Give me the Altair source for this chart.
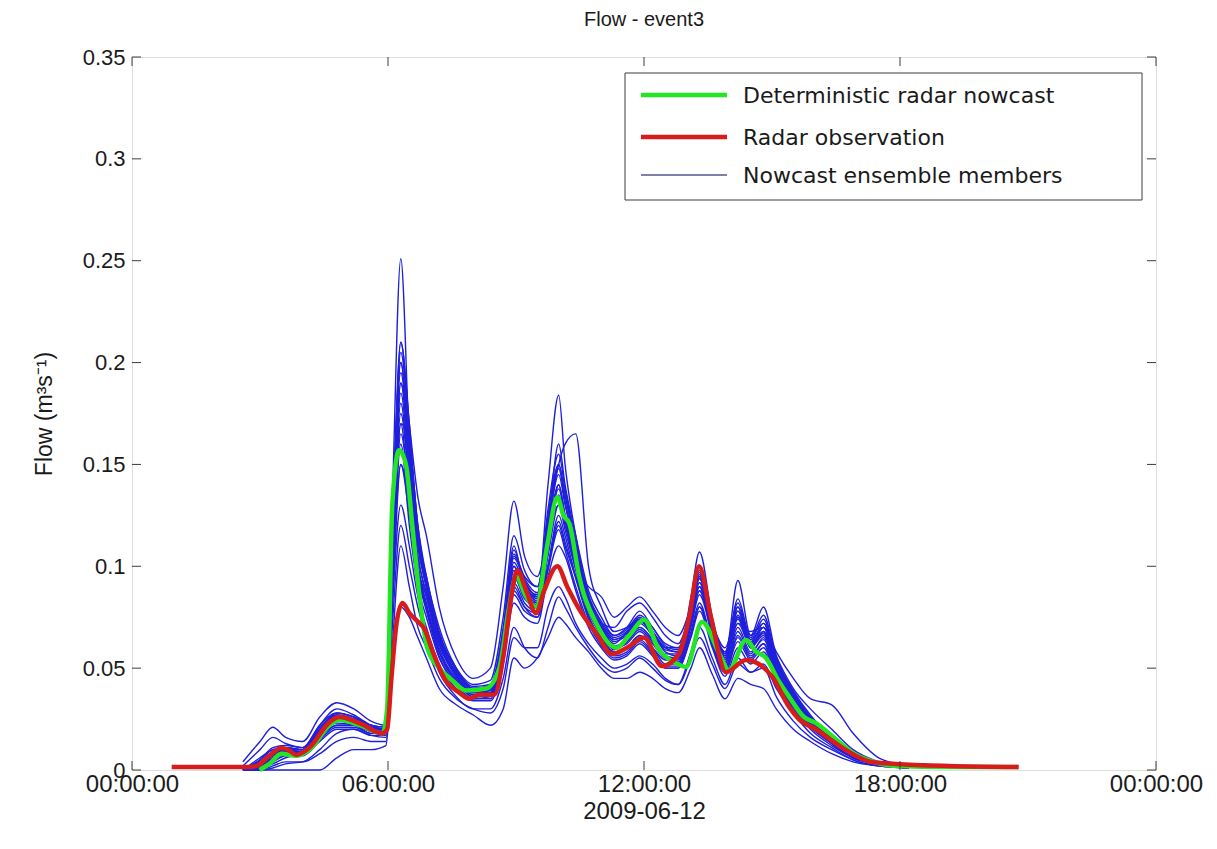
import json
import altair as alt
import pandas as pd

# ---------------- text ----------------
title_text = "Flow - event3"
x_title = "2009-06-12"
y_title = "Flow (m³s⁻¹)"
x_tick_values = [0, 6, 12, 18, 24]
x_tick_labels = ["00:00:00", "06:00:00", "12:00:00", "18:00:00", "00:00:00"]
y_tick_values = [0, 0.05, 0.1, 0.15, 0.2, 0.25, 0.3, 0.35]

legend_labels = ["Deterministic radar nowcast", "Radar observation", "Nowcast ensemble members"]
legend_colors = ["#22e622", "#d81b1b", "#55558f"]
legend_widths = [4.5, 4.5, 1.3]

# ---------------- radar observation ----------------
obs_hours = [0.93, 2.75, 2.92, 3.17, 3.50, 3.69, 3.85, 4.16, 4.63, 4.86, 5.33, 5.87, 5.98,
             6.08, 6.20, 6.34, 6.50, 6.69, 6.86, 7.05, 7.32, 7.67, 7.90, 8.14, 8.49, 8.72,
             8.89, 9.03, 9.24, 9.47, 9.66, 9.97, 10.20, 10.48, 10.88, 11.25, 11.60, 12.00,
             12.42, 12.82, 13.06, 13.29, 13.57, 13.92, 14.39, 15.00, 15.40, 15.63, 16.03,
             16.73, 17.34, 17.90, 19.15, 20.78]
obs_flow = [0.0015, 0.0015, 0.002, 0.006, 0.0108, 0.0095, 0.0074, 0.011, 0.0235, 0.026,
            0.023, 0.018, 0.020, 0.045, 0.072, 0.082, 0.077, 0.073, 0.069, 0.058, 0.045,
            0.038, 0.035, 0.037, 0.037, 0.058, 0.085, 0.098, 0.088, 0.077, 0.088, 0.100,
            0.090, 0.079, 0.067, 0.057, 0.060, 0.065, 0.051, 0.057, 0.075, 0.100, 0.075,
            0.048, 0.054, 0.046, 0.031, 0.025, 0.020, 0.0098, 0.0039, 0.003, 0.002, 0.0015]

# ---------------- deterministic nowcast ----------------
det_hours = [2.99, 3.22, 3.50, 3.85, 4.16, 4.63, 4.86, 5.33, 5.87, 5.98, 6.10, 6.26, 6.42,
             6.57, 6.74, 6.92, 7.20, 7.51, 7.83, 8.30, 8.61, 8.84, 9.00, 9.24, 9.47, 9.73,
             9.97, 10.11, 10.25, 10.48, 10.88, 11.35, 11.65, 12.00, 12.35, 12.70, 12.99,
             13.36, 13.76, 13.99, 14.39, 14.63, 14.86, 15.12, 15.40, 15.75, 16.03, 16.45,
             16.92, 17.39, 17.90, 19.15, 20.78]
det_flow = [0.0, 0.003, 0.008, 0.007, 0.010, 0.022, 0.0245, 0.022, 0.018, 0.030, 0.130,
            0.157, 0.150, 0.120, 0.085, 0.060, 0.050, 0.044, 0.039, 0.040, 0.050, 0.080,
            0.095, 0.085, 0.080, 0.110, 0.134, 0.125, 0.121, 0.095, 0.072, 0.060, 0.066,
            0.0737, 0.059, 0.053, 0.0506, 0.0727, 0.0574, 0.049, 0.0638, 0.058, 0.055,
            0.045, 0.036, 0.026, 0.023, 0.016, 0.008, 0.004, 0.002, 0.0015, 0.0015]

# ---------------- ensemble members ----------------
member_hours = [2.6, 3.0, 3.3, 3.6, 4.0, 4.4, 4.8, 5.2, 5.6, 5.95, 6.1, 6.3, 6.5, 6.7, 6.9,
                7.2, 7.6, 8.0, 8.4, 8.7, 8.95, 9.2, 9.5, 9.75, 10.0, 10.15, 10.4, 10.7, 11.0,
                11.3, 11.6, 11.9, 12.2, 12.5, 12.8, 13.1, 13.3, 13.6, 13.9, 14.2, 14.5, 14.8,
                15.1, 15.5, 15.9, 16.4, 16.9, 17.5, 18.2]
member_01 = [0.000, 0.006, 0.010, 0.011, 0.010, 0.020, 0.027, 0.025, 0.021, 0.020, 0.13, 0.251, 0.16, 0.10, 0.08, 0.058, 0.044, 0.036, 0.036, 0.060, 0.100, 0.085, 0.082, 0.110, 0.140, 0.125, 0.105, 0.080, 0.068, 0.060, 0.064, 0.070, 0.064, 0.055, 0.055, 0.075, 0.090, 0.065, 0.050, 0.070, 0.058, 0.064, 0.048, 0.034, 0.024, 0.014, 0.007, 0.003, 0.001]
member_02 = [0.000, 0.004, 0.008, 0.010, 0.009, 0.018, 0.025, 0.024, 0.020, 0.019, 0.10, 0.19, 0.15, 0.11, 0.09, 0.065, 0.046, 0.038, 0.040, 0.070, 0.110, 0.090, 0.085, 0.140, 0.184, 0.150, 0.115, 0.085, 0.070, 0.062, 0.068, 0.075, 0.068, 0.058, 0.056, 0.078, 0.095, 0.070, 0.052, 0.080, 0.060, 0.070, 0.052, 0.036, 0.025, 0.014, 0.007, 0.003, 0.001]
member_03 = [0.000, 0.002, 0.006, 0.009, 0.008, 0.016, 0.024, 0.024, 0.021, 0.020, 0.09, 0.17, 0.16, 0.12, 0.095, 0.070, 0.050, 0.040, 0.042, 0.065, 0.105, 0.095, 0.090, 0.120, 0.150, 0.160, 0.165, 0.100, 0.080, 0.068, 0.070, 0.074, 0.066, 0.060, 0.058, 0.072, 0.088, 0.068, 0.054, 0.075, 0.062, 0.068, 0.050, 0.035, 0.024, 0.013, 0.006, 0.003, 0.001]
member_04 = [0.004, 0.014, 0.021, 0.016, 0.014, 0.026, 0.033, 0.030, 0.024, 0.022, 0.11, 0.21, 0.17, 0.134, 0.115, 0.080, 0.055, 0.045, 0.050, 0.090, 0.132, 0.105, 0.095, 0.115, 0.130, 0.120, 0.100, 0.090, 0.085, 0.075, 0.080, 0.085, 0.078, 0.070, 0.066, 0.080, 0.092, 0.072, 0.060, 0.078, 0.066, 0.072, 0.056, 0.040, 0.030, 0.020, 0.010, 0.004, 0.001]
member_05 = [0.000, 0.003, 0.007, 0.010, 0.010, 0.020, 0.028, 0.026, 0.022, 0.021, 0.08, 0.15, 0.13, 0.10, 0.08, 0.062, 0.048, 0.040, 0.040, 0.065, 0.095, 0.085, 0.080, 0.100, 0.120, 0.110, 0.095, 0.080, 0.072, 0.070, 0.078, 0.082, 0.075, 0.066, 0.062, 0.078, 0.090, 0.070, 0.058, 0.072, 0.068, 0.070, 0.058, 0.045, 0.035, 0.032, 0.018, 0.006, 0.002]
member_06 = [0.000, 0.000, 0.000, 0.000, 0.000, 0.000, 0.006, 0.010, 0.010, 0.012, 0.05, 0.08, 0.075, 0.065, 0.055, 0.040, 0.032, 0.027, 0.022, 0.030, 0.055, 0.050, 0.055, 0.065, 0.075, 0.072, 0.065, 0.058, 0.050, 0.045, 0.045, 0.048, 0.045, 0.040, 0.038, 0.050, 0.060, 0.047, 0.035, 0.045, 0.042, 0.040, 0.030, 0.020, 0.014, 0.008, 0.004, 0.002, 0.001]
member_07 = [0.000, 0.000, 0.002, 0.004, 0.004, 0.008, 0.014, 0.016, 0.014, 0.014, 0.06, 0.11, 0.09, 0.07, 0.06, 0.045, 0.035, 0.030, 0.028, 0.040, 0.065, 0.060, 0.060, 0.080, 0.090, 0.085, 0.072, 0.062, 0.055, 0.050, 0.052, 0.056, 0.052, 0.045, 0.042, 0.055, 0.065, 0.052, 0.040, 0.052, 0.048, 0.050, 0.036, 0.024, 0.016, 0.010, 0.005, 0.002, 0.001]
member_08 = [0.000, 0.002, 0.006, 0.008, 0.008, 0.016, 0.022, 0.022, 0.018, 0.018, 0.09, 0.16, 0.12, 0.09, 0.075, 0.055, 0.042, 0.035, 0.036, 0.058, 0.090, 0.080, 0.075, 0.100, 0.125, 0.115, 0.095, 0.075, 0.065, 0.058, 0.060, 0.066, 0.060, 0.052, 0.052, 0.068, 0.082, 0.062, 0.048, 0.065, 0.055, 0.062, 0.046, 0.032, 0.022, 0.014, 0.007, 0.003, 0.001]
member_09 = [0.000, 0.004, 0.009, 0.011, 0.010, 0.019, 0.026, 0.024, 0.020, 0.019, 0.10, 0.18, 0.14, 0.10, 0.085, 0.062, 0.046, 0.038, 0.038, 0.062, 0.098, 0.088, 0.082, 0.115, 0.140, 0.125, 0.100, 0.078, 0.066, 0.060, 0.062, 0.068, 0.062, 0.055, 0.055, 0.085, 0.107, 0.075, 0.055, 0.078, 0.060, 0.068, 0.050, 0.035, 0.024, 0.014, 0.007, 0.003, 0.001]
member_10 = [0.000, 0.003, 0.007, 0.009, 0.009, 0.018, 0.024, 0.023, 0.019, 0.018, 0.09, 0.17, 0.13, 0.095, 0.08, 0.058, 0.044, 0.037, 0.037, 0.060, 0.092, 0.082, 0.078, 0.105, 0.130, 0.118, 0.098, 0.076, 0.064, 0.058, 0.060, 0.066, 0.060, 0.054, 0.054, 0.072, 0.088, 0.068, 0.056, 0.093, 0.066, 0.080, 0.056, 0.038, 0.026, 0.015, 0.007, 0.003, 0.001]
member_11 = [0.000, 0.001, 0.004, 0.007, 0.007, 0.014, 0.020, 0.020, 0.017, 0.017, 0.08, 0.13, 0.11, 0.085, 0.07, 0.052, 0.040, 0.034, 0.034, 0.052, 0.082, 0.075, 0.072, 0.095, 0.110, 0.105, 0.088, 0.070, 0.060, 0.054, 0.056, 0.062, 0.056, 0.050, 0.050, 0.065, 0.078, 0.060, 0.046, 0.060, 0.052, 0.058, 0.044, 0.030, 0.020, 0.012, 0.006, 0.003, 0.001]
member_12 = [0.000, 0.005, 0.011, 0.012, 0.011, 0.022, 0.028, 0.026, 0.022, 0.021, 0.12, 0.20, 0.15, 0.11, 0.09, 0.066, 0.049, 0.041, 0.042, 0.068, 0.108, 0.092, 0.086, 0.125, 0.150, 0.135, 0.110, 0.085, 0.072, 0.065, 0.068, 0.074, 0.068, 0.060, 0.060, 0.080, 0.098, 0.072, 0.058, 0.082, 0.064, 0.074, 0.054, 0.038, 0.026, 0.016, 0.008, 0.003, 0.001]
member_13 = [0.000, 0.000, 0.001, 0.003, 0.004, 0.010, 0.018, 0.020, 0.017, 0.016, 0.07, 0.12, 0.10, 0.08, 0.065, 0.048, 0.036, 0.030, 0.030, 0.045, 0.070, 0.060, 0.055, 0.070, 0.085, 0.080, 0.070, 0.060, 0.052, 0.048, 0.050, 0.055, 0.050, 0.044, 0.042, 0.058, 0.070, 0.055, 0.042, 0.055, 0.048, 0.052, 0.040, 0.028, 0.018, 0.011, 0.005, 0.002, 0.001]
member_14 = [0.002, 0.010, 0.016, 0.013, 0.011, 0.022, 0.030, 0.027, 0.022, 0.020, 0.10, 0.19, 0.16, 0.115, 0.095, 0.068, 0.050, 0.042, 0.044, 0.075, 0.115, 0.098, 0.090, 0.120, 0.160, 0.140, 0.115, 0.088, 0.075, 0.066, 0.070, 0.078, 0.070, 0.062, 0.060, 0.076, 0.094, 0.070, 0.056, 0.075, 0.064, 0.070, 0.052, 0.038, 0.026, 0.016, 0.008, 0.003, 0.001]
member_15 = [0.000, 0.003, 0.008, 0.010, 0.009, 0.017, 0.025, 0.025, 0.021, 0.020, 0.11, 0.205, 0.165, 0.12, 0.092, 0.066, 0.047, 0.038, 0.039, 0.063, 0.100, 0.090, 0.083, 0.118, 0.145, 0.130, 0.108, 0.082, 0.070, 0.063, 0.066, 0.072, 0.066, 0.057, 0.057, 0.074, 0.092, 0.068, 0.052, 0.074, 0.060, 0.066, 0.050, 0.036, 0.025, 0.015, 0.007, 0.003, 0.001]
member_16 = [0.000, 0.002, 0.005, 0.008, 0.009, 0.018, 0.023, 0.022, 0.019, 0.018, 0.095, 0.175, 0.14, 0.105, 0.085, 0.060, 0.045, 0.037, 0.038, 0.061, 0.095, 0.084, 0.080, 0.108, 0.135, 0.122, 0.100, 0.078, 0.066, 0.059, 0.063, 0.069, 0.063, 0.056, 0.053, 0.070, 0.086, 0.066, 0.050, 0.068, 0.057, 0.065, 0.047, 0.033, 0.023, 0.014, 0.007, 0.003, 0.001]
member_17 = [0.000, 0.001, 0.003, 0.006, 0.008, 0.015, 0.021, 0.021, 0.018, 0.018, 0.085, 0.165, 0.135, 0.10, 0.082, 0.058, 0.043, 0.036, 0.037, 0.058, 0.088, 0.080, 0.077, 0.100, 0.122, 0.112, 0.094, 0.074, 0.062, 0.056, 0.058, 0.064, 0.058, 0.051, 0.051, 0.066, 0.080, 0.062, 0.049, 0.066, 0.056, 0.062, 0.046, 0.033, 0.022, 0.013, 0.006, 0.003, 0.001]
member_18 = [0.000, 0.005, 0.010, 0.011, 0.010, 0.021, 0.027, 0.025, 0.021, 0.020, 0.12, 0.195, 0.155, 0.112, 0.09, 0.064, 0.048, 0.040, 0.041, 0.066, 0.104, 0.093, 0.085, 0.122, 0.148, 0.132, 0.108, 0.083, 0.071, 0.064, 0.067, 0.073, 0.067, 0.059, 0.058, 0.077, 0.096, 0.071, 0.057, 0.080, 0.062, 0.072, 0.053, 0.037, 0.025, 0.015, 0.008, 0.003, 0.001]
member_19 = [0.000, 0.002, 0.007, 0.009, 0.009, 0.017, 0.024, 0.023, 0.020, 0.019, 0.10, 0.185, 0.145, 0.105, 0.087, 0.062, 0.046, 0.038, 0.039, 0.064, 0.098, 0.087, 0.081, 0.112, 0.138, 0.124, 0.102, 0.079, 0.067, 0.061, 0.063, 0.070, 0.064, 0.056, 0.055, 0.073, 0.090, 0.067, 0.053, 0.072, 0.061, 0.067, 0.049, 0.035, 0.024, 0.014, 0.007, 0.003, 0.001]
member_20 = [0.000, 0.004, 0.009, 0.010, 0.010, 0.019, 0.026, 0.025, 0.021, 0.020, 0.115, 0.21, 0.17, 0.118, 0.093, 0.067, 0.049, 0.040, 0.040, 0.066, 0.106, 0.094, 0.087, 0.128, 0.155, 0.138, 0.112, 0.086, 0.073, 0.066, 0.069, 0.076, 0.070, 0.061, 0.059, 0.078, 0.097, 0.073, 0.057, 0.084, 0.065, 0.076, 0.055, 0.039, 0.027, 0.016, 0.008, 0.003, 0.001]
member_21 = [0.000, 0.001, 0.005, 0.008, 0.008, 0.016, 0.022, 0.022, 0.019, 0.018, 0.09, 0.15, 0.125, 0.095, 0.078, 0.056, 0.042, 0.035, 0.035, 0.056, 0.086, 0.078, 0.075, 0.098, 0.118, 0.108, 0.090, 0.072, 0.061, 0.055, 0.057, 0.063, 0.057, 0.050, 0.050, 0.066, 0.080, 0.061, 0.048, 0.063, 0.054, 0.060, 0.045, 0.031, 0.021, 0.013, 0.006, 0.003, 0.001]
member_22 = [0.000, 0.003, 0.008, 0.010, 0.010, 0.019, 0.025, 0.024, 0.020, 0.019, 0.105, 0.20, 0.16, 0.115, 0.09, 0.064, 0.047, 0.039, 0.040, 0.064, 0.102, 0.091, 0.084, 0.118, 0.150, 0.135, 0.110, 0.083, 0.071, 0.064, 0.067, 0.074, 0.068, 0.060, 0.058, 0.076, 0.094, 0.071, 0.055, 0.076, 0.063, 0.070, 0.052, 0.037, 0.025, 0.015, 0.007, 0.003, 0.001]
members = [member_01, member_02, member_03, member_04, member_05, member_06, member_07,
           member_08, member_09, member_10, member_11, member_12, member_13, member_14,
           member_15, member_16, member_17, member_18, member_19, member_20, member_21,
           member_22]

# ---------------- layout / style ----------------
W, H = 1024, 713
FONT = "Liberation Sans"
LEG_FONT = "DejaVu Sans"
TEXT = "#1a1a1a"
BOX = "#3c3c3c"
TICK = 9

rows = []
for i, m in enumerate(members):
    for h, v in zip(member_hours, m):
        rows.append({"hour": h, "flow": v, "member": f"m{i + 1:02d}"})
ens_df = pd.DataFrame(rows)
obs_df = pd.DataFrame({"hour": obs_hours, "flow": obs_flow})
det_df = pd.DataFrame({"hour": det_hours, "flow": det_flow})
xt_df = pd.DataFrame({"hour": x_tick_values})
yt_df = pd.DataFrame({"flow": y_tick_values})
one = pd.DataFrame({"k": [0]})

label_expr = f"{json.dumps(x_tick_labels)}[indexof({json.dumps(x_tick_values)}, datum.value)]"

xscale = alt.Scale(domain=[0, 24], nice=False, zero=False)
yscale = alt.Scale(domain=[0, 0.35], nice=False, zero=True)

X = alt.X("hour:Q", scale=xscale,
          axis=alt.Axis(values=x_tick_values, labelExpr=label_expr, ticks=False, domain=False,
                        grid=False, labelFont=FONT, labelFontSize=24, labelColor=TEXT,
                        labelPadding=2, title=x_title, titleFont=FONT, titleFontSize=24,
                        titleFontWeight="normal", titleColor=TEXT, titlePadding=3,
                        labelFlush=False))
Y = alt.Y("flow:Q", scale=yscale,
          axis=alt.Axis(values=y_tick_values, format="~g", ticks=False, domain=False, grid=False,
                        labelFont=FONT, labelFontSize=22, labelColor=TEXT, labelPadding=7,
                        title=y_title, titleFont=FONT, titleFontSize=23, titleFontWeight="normal",
                        titleColor=TEXT, titlePadding=26))

ens = alt.Chart(ens_df).mark_line(color="#1f1fdc", strokeWidth=1.4, interpolate="monotone").encode(
    x=X, y=Y, detail="member:N")
det = alt.Chart(det_df).mark_line(color=legend_colors[0], strokeWidth=4.5,
                                  interpolate="monotone").encode(x=X, y=Y)
obs = alt.Chart(obs_df).mark_line(color=legend_colors[1], strokeWidth=4.5,
                                  interpolate="monotone").encode(x=X, y=Y)

tick_kw = dict(color=BOX, strokeWidth=1)
yt_left = alt.Chart(yt_df).mark_rule(**tick_kw).encode(y=Y, x=alt.value(0), x2=alt.value(TICK))
yt_right = alt.Chart(yt_df).mark_rule(**tick_kw).encode(y=Y, x=alt.value(W - TICK), x2=alt.value(W))
xt_bot = alt.Chart(xt_df).mark_rule(**tick_kw).encode(x=X, y=alt.value(H - TICK), y2=alt.value(H))
xt_top = alt.Chart(xt_df).mark_rule(**tick_kw).encode(x=X, y=alt.value(0), y2=alt.value(TICK))

# legend box (positions in plot pixels)
LX0, LX1, LY0, LY1 = 493, 1010, 16, 143
leg_rows = [38, 80, 118]
leg_layers = [alt.Chart(one).mark_rect(fill="white", stroke=BOX, strokeWidth=1).encode(
    x=alt.value(LX0), x2=alt.value(LX1), y=alt.value(LY0), y2=alt.value(LY1))]
for lab, col, sw, yy in zip(legend_labels, legend_colors, legend_widths, leg_rows):
    leg_layers.append(alt.Chart(one).mark_rule(color=col, strokeWidth=sw).encode(
        x=alt.value(509), x2=alt.value(595), y=alt.value(yy)))
    leg_layers.append(alt.Chart(one).mark_text(align="left", baseline="middle", font=LEG_FONT,
                                               fontSize=22, color=TEXT).encode(
        x=alt.value(611), y=alt.value(yy + 1), text=alt.value(lab)))

chart = alt.layer(ens, det, obs, yt_left, yt_right, xt_bot, xt_top, *leg_layers).properties(
    width=W, height=H,
    title=alt.TitleParams(title_text, font=FONT, fontSize=20, fontWeight="normal", color=TEXT,
                          offset=16),
    autosize=alt.AutoSizeParams(type="none"),
    padding={"left": 124, "top": 49, "right": 50, "bottom": 62},
).configure_view(stroke=BOX, strokeWidth=1).configure(background="white")

chart.save("out.html", embed_options={"renderer": "svg", "actions": False})
